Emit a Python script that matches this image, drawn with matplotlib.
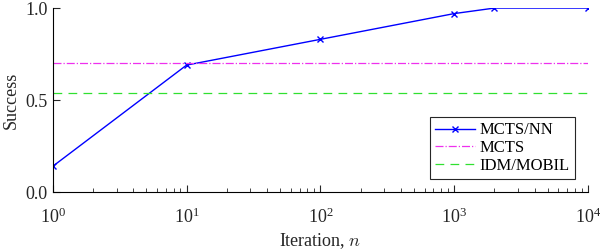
import numpy as np
import matplotlib.pyplot as plt

plt.rcParams['font.family'] = ['Liberation Serif', 'DejaVu Serif']
plt.rcParams['mathtext.fontset'] = 'cm'

# data
iters = [1, 10, 100, 1000, 2000, 10000]
success_nn = [0.14, 0.69, 0.83, 0.97, 1.0, 1.0]
mcts_level = 0.70
idm_level = 0.54

fig = plt.figure(figsize=(6, 2.52), dpi=100)
ax = fig.add_axes([0.088, 0.238, 0.892, 0.73])

ax.plot(iters, success_nn, '-x', color='#0000ff', lw=1, ms=5, mew=1, label='MCTS/NN')
ax.plot([iters[0], iters[-1]], [mcts_level] * 2, '-.', color='#ee30ee', lw=0.9, label='MCTS')
ax.plot([iters[0], iters[-1]], [idm_level] * 2, '--', color='#30e030', lw=0.9,
        dashes=(7, 5), label='IDM/MOBIL')

ax.set_xscale('log')
ax.set_xlim(1, 1e4)
ax.set_ylim(0, 1)
ax.set_yticks([0, 0.5, 1.0])
ax.set_yticklabels(['0.0', '0.5', '1.0'])
ax.spines['top'].set_visible(False)
ax.spines['right'].set_visible(False)
ax.tick_params(direction='in', which='both', labelsize=13, colors='#262626')
ax.tick_params(which='major', length=5)
ax.tick_params(which='minor', length=3)
ax.tick_params(axis='x', pad=11)
ax.set_xlabel('Iteration, $n$', fontsize=13, color='#262626', labelpad=3)
ax.set_ylabel('Success', fontsize=13, color='#262626')

leg = ax.legend(loc='lower right', fontsize=12, fancybox=False, framealpha=1,
                edgecolor='#262626', borderpad=0.3, labelspacing=0.1,
                handlelength=2.4, handletextpad=0.3, borderaxespad=0.8)
leg.get_frame().set_linewidth(0.8)

fig.savefig('out.png')
